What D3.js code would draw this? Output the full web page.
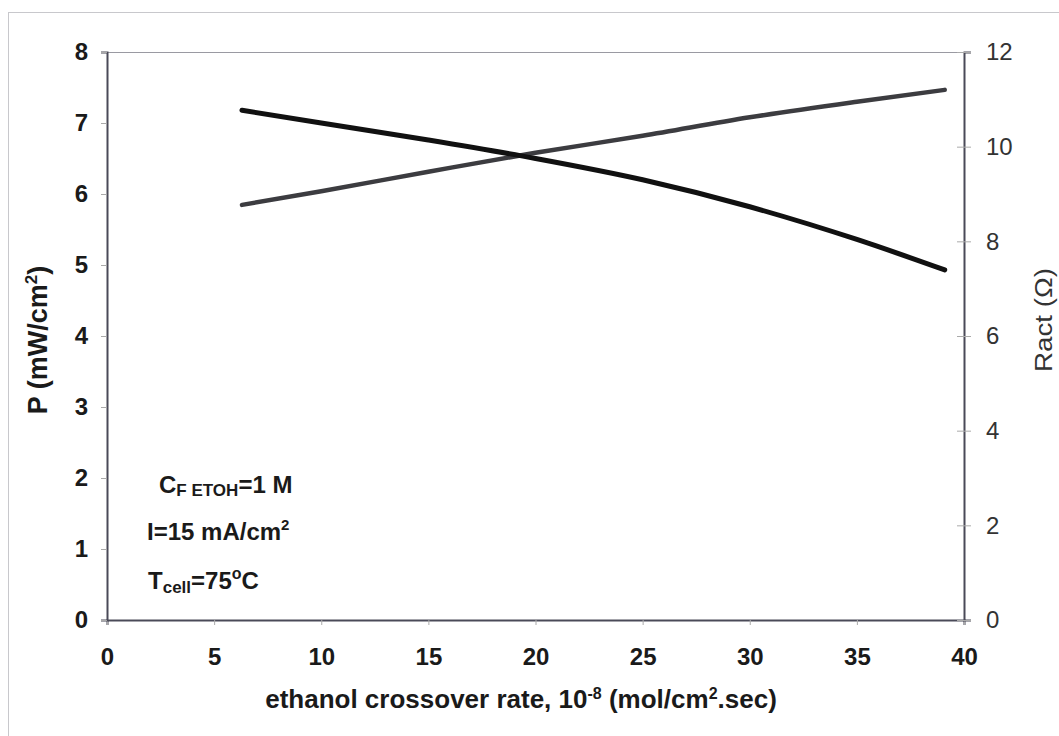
<!DOCTYPE html>
<html>
<head>
<meta charset="utf-8">
<script src="https://cdn.jsdelivr.net/npm/d3@7"></script>
<style>
  html, body { margin: 0; padding: 0; background: #fff; }
  svg { display: block; font-family: "Liberation Sans", Arial, sans-serif; }
</style>
</head>
<body>
<svg id="chart" width="1059" height="736"></svg>
<script>
// Data
const crossoverRate = [6.3, 10, 15, 20, 25, 30, 35, 39.1];
const powerDensity  = [7.18, 7.0, 6.76, 6.5, 6.2, 5.82, 5.36, 4.93];
const ractOhm       = [8.77, 9.06, 9.47, 9.87, 10.23, 10.62, 10.95, 11.2];
const xTicks = [0, 5, 10, 15, 20, 25, 30, 35, 40];
const leftTicks = [0, 1, 2, 3, 4, 5, 6, 7, 8];
const rightTicks = [0, 2, 4, 6, 8, 10, 12];

const svg = d3.select("#chart");
const m = { left: 107, top: 52, right: 964, bottom: 620 };
const FONT = "Liberation Sans, Arial, sans-serif";

// outer frame
svg.append("rect").attr("x", 8.5).attr("y", 12.5).attr("width", 1100).attr("height", 800)
  .attr("fill", "none").attr("stroke", "#c8c8cc").attr("stroke-width", 1);

const x = d3.scaleLinear().domain([0, 40]).range([m.left, m.right]);
const yL = d3.scaleLinear().domain([0, 8]).range([m.bottom, m.top]);
const yR = d3.scaleLinear().domain([0, 12]).range([m.bottom, m.top]);

// top border of plot area
svg.append("line").attr("x1", m.left).attr("x2", m.right).attr("y1", m.top + 0.5).attr("y2", m.top + 0.5)
  .attr("stroke", "#9a9aa2").attr("stroke-width", 1);

// X axis
const gx = svg.append("g").attr("transform", `translate(0,${m.bottom})`)
  .call(d3.axisBottom(x).tickValues(xTicks).tickSize(5).tickPadding(23).tickFormat(d3.format("d")));
gx.select(".domain").attr("stroke", "#4a4a58").attr("stroke-width", 2);
gx.selectAll(".tick line").attr("stroke", "#aaa");
gx.selectAll("text").attr("font-size", 24).attr("font-weight", "bold").attr("fill", "#1a1a1a")
  .attr("font-family", FONT);

// Left axis
const gl = svg.append("g").attr("transform", `translate(${m.left},0)`)
  .call(d3.axisLeft(yL).tickValues(leftTicks).tickSize(6).tickPadding(13).tickFormat(d3.format("d")));
gl.select(".domain").attr("stroke", "#4a4a58").attr("stroke-width", 2);
gl.selectAll(".tick line").attr("stroke", "#aaa");
gl.selectAll("text").attr("font-size", 24).attr("font-weight", "bold").attr("fill", "#1a1a1a")
  .attr("font-family", FONT);

// Right axis
const gr = svg.append("g").attr("transform", `translate(${m.right},0)`)
  .call(d3.axisRight(yR).tickValues(rightTicks).tickSize(7).tickPadding(15).tickFormat(d3.format("d")));
gr.select(".domain").attr("stroke", "#4a4a58").attr("stroke-width", 2);
gr.selectAll(".tick line").attr("stroke", "#aaa").attr("x1", -7);
gr.selectAll("text").attr("font-size", 24).attr("fill", "#333")
  .attr("font-family", FONT);

// Lines
const pts = crossoverRate.map((c, i) => ({ c, p: powerDensity[i], r: ractOhm[i] }));
svg.append("path").datum(pts)
  .attr("d", d3.line().x(d => x(d.c)).y(d => yR(d.r)).curve(d3.curveMonotoneX))
  .attr("fill", "none").attr("stroke", "#3c3c40").attr("stroke-width", 4.5).attr("stroke-linecap", "round");
svg.append("path").datum(pts)
  .attr("d", d3.line().x(d => x(d.c)).y(d => yL(d.p)).curve(d3.curveMonotoneX))
  .attr("fill", "none").attr("stroke", "#111").attr("stroke-width", 5).attr("stroke-linecap", "round");

// Axis titles
svg.append("text").attr("x", 521).attr("y", 708).attr("text-anchor", "middle")
  .attr("font-size", 26).attr("font-weight", "bold").attr("fill", "#1a1a1a")
  .html('ethanol crossover rate, 10<tspan dy="-9" font-size="16">-8</tspan><tspan dy="9"> (mol/cm</tspan><tspan dy="-9" font-size="16">2</tspan><tspan dy="9">.sec)</tspan>');

svg.append("text").attr("transform", "translate(47,340) rotate(-90)").attr("text-anchor", "middle")
  .attr("font-size", 27).attr("font-weight", "bold").attr("fill", "#1a1a1a")
  .html('P (mW/cm<tspan dy="-10" font-size="17">2</tspan><tspan dy="10">)</tspan>');

svg.append("text").attr("transform", "translate(1052,320) rotate(-90)").attr("text-anchor", "middle")
  .attr("font-size", 23).attr("fill", "#333")
  .attr("textLength", 104).attr("lengthAdjust", "spacingAndGlyphs")
  .text("Ract (Ω)");

// Annotations
const ann = svg.append("g").attr("font-size", 24).attr("font-weight", "bold").attr("fill", "#1a1a1a");
ann.append("text").attr("x", 159).attr("y", 493)
  .html('C<tspan dy="3" font-size="17">F ETOH</tspan><tspan dy="-3">=1 M</tspan>');
ann.append("text").attr("x", 147).attr("y", 540)
  .html('I=15 mA/cm<tspan dy="-10" font-size="15">2</tspan>');
ann.append("text").attr("x", 148).attr("y", 589)
  .html('T<tspan dy="4" font-size="17">cell</tspan><tspan dy="-4">=75</tspan><tspan dy="-10" font-size="16">o</tspan><tspan dy="10">C</tspan>');
</script>
</body>
</html>
